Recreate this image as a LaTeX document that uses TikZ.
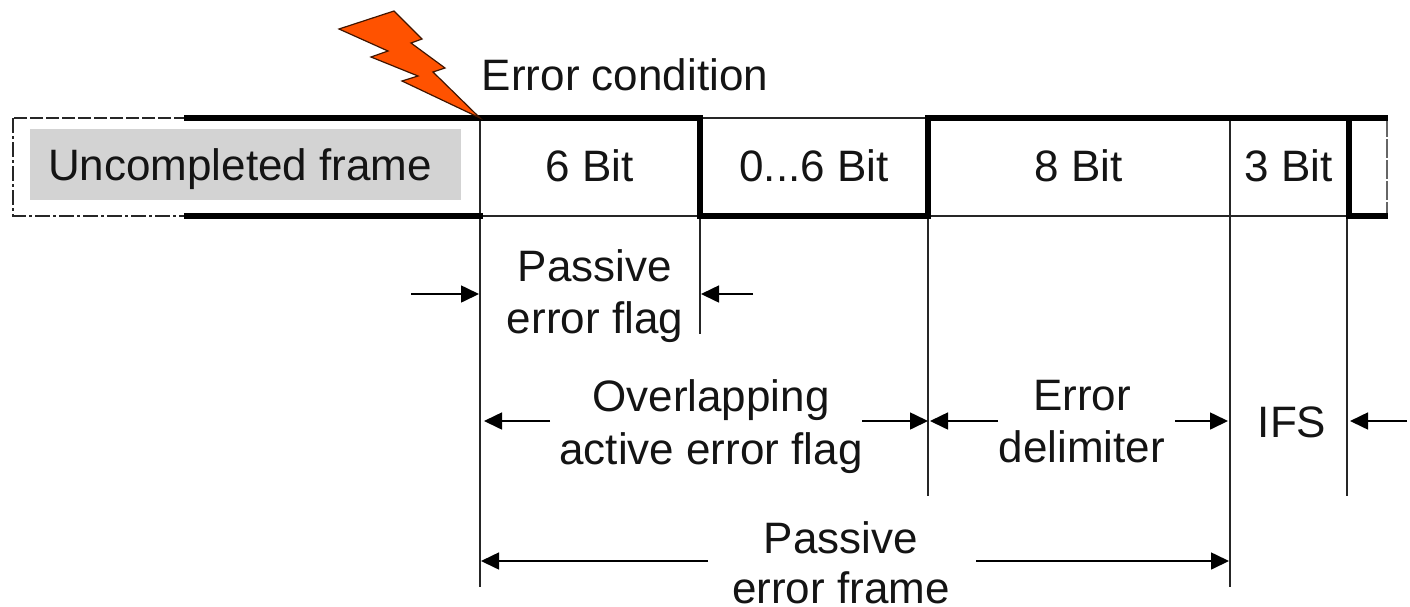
\documentclass[tikz,border=0pt]{standalone}
\usepackage{fontspec}
\setmainfont{Liberation Sans}
\usetikzlibrary{arrows.meta}
\tikzset{
  lbl/.style={anchor=base,inner sep=0pt,font=\fontsize{44}{52}\selectfont,text=black!92},
  thin line/.style={draw=black!85,line width=2pt},
  thick line/.style={draw=black,line width=5.5pt,line cap=rect},
  dash line/.style={draw=black!85,line width=1.6pt,dash pattern=on 13pt off 3pt},
  dashdot line/.style={draw=black!85,line width=1.6pt,dash pattern=on 15pt off 3pt on 3pt off 3pt},
  dim/.style={draw=black,line width=1.6pt,-{Triangle[length=18pt,width=17pt]}}
}
\definecolor{boltcol}{HTML}{FF5200}
\definecolor{boxgrey}{HTML}{D3D3D3}
\begin{document}
\begin{tikzpicture}[x=1pt,y=-1pt]
\useasboundingbox (0,0) rectangle (1410,606);
% frame anchors
\coordinate (tl) at (13,118); \coordinate (bl) at (13,216);
\coordinate (ts) at (187,118); \coordinate (bs) at (187,216);
\coordinate (t1) at (480,118); \coordinate (b1) at (480,216);
\coordinate (t2) at (700,118); \coordinate (b2) at (700,216);
\coordinate (t3) at (928,118); \coordinate (b3) at (928,216);
\coordinate (t4) at (1230,118); \coordinate (b4) at (1230,216);
\coordinate (t5) at (1349,118); \coordinate (b5) at (1349,216);
\coordinate (te) at (1385,118); \coordinate (be) at (1385,216);
\coordinate (ve) at (1387,118); \coordinate (we) at (1387,216);
\coordinate (d1) at (480,587); \coordinate (d2) at (700,334);
\coordinate (d3) at (928,496); \coordinate (d4) at (1230,587);
\coordinate (d5) at (1347,496); \coordinate (u5) at (1347,216);
% grey box
\node[fill=boxgrey,minimum width=431pt,minimum height=71pt,inner sep=0pt,anchor=north west] (ubox) at (30,129) {};
% dashed ends
\draw[dash line] (ts) -- (tl);
\draw[dashdot line] (tl) -- (bl) -- (bs);
\draw[draw=black!60,line width=1.4pt,dash pattern=on 19pt off 2pt] (ve) -- (we);
% thin frame
\draw[thin line] (t2) -- (t3);
\draw[thin line] (b1) -- (b5);
\draw[thin line] (t1) -- (d1);
\draw[thin line] (t2) -- (d2);
\draw[thin line] (t3) -- (d3);
\draw[thin line] (t4) -- (d4);
\draw[thin line] (u5) -- (d5);
% thick frame
\draw[thick line] (ts) -- (t2) -- (b2) -- (b3) -- (t3) -- (te);
\draw[thick line] (bs) -- (b1);
\draw[thick line] (t5) -- (b5) -- (be);
% bolt
\coordinate (tip) at (t1);
\fill[boltcol,draw=black!75!boltcol,line width=1.2pt,miter limit=10]
  (394,11) -- (422,39) -- (411,43) -- (445,68) -- (433,72) -- (tip)
  -- (402,81) -- (418,76) -- (371,57) -- (388,51) -- (339,29) -- cycle;
% labels
\node[lbl] (cond) at (625,90) {Error condition};
\node[lbl] (unc) at (240,180) {Uncompleted frame};
\node[lbl] (b6) at (590,181) {6 Bit};
\node[lbl] (b06) at (814,181) {0...6 Bit};
\node[lbl] (b8) at (1079,181) {8 Bit};
\node[lbl] (b33) at (1289,181) {3 Bit};
\node[lbl] (pef1) at (595,281) {Passive};
\node[lbl] (pef2) at (595,333) {error flag};
\node[lbl] (oa1) at (711,411) {Overlapping};
\node[lbl] (oa2) at (711,464) {active error flag};
\node[lbl] (ed1) at (1082,410) {Error};
\node[lbl] (ed2) at (1082,462) {delimiter};
\node[lbl] (ifs) at (1292,437) {IFS};
\node[lbl] (pf1) at (841,553) {Passive};
\node[lbl] (pf2) at (841,603) {error frame};
% dimension arrows
\coordinate (a1s) at (411,294); \coordinate (a1e) at (479,294);
\coordinate (a2s) at (753,294); \coordinate (a2e) at (701,294);
\coordinate (a3s) at (550,421); \coordinate (a3e) at (484,421);
\coordinate (a4s) at (862,421); \coordinate (a4e) at (928,421);
\coordinate (a5s) at (998,421); \coordinate (a5e) at (930,421);
\coordinate (a6s) at (1175,421); \coordinate (a6e) at (1228,421);
\coordinate (a7s) at (1407,421); \coordinate (a7e) at (1350,421);
\coordinate (a8s) at (708,561); \coordinate (a8e) at (481,561);
\coordinate (a9s) at (976,561); \coordinate (a9e) at (1229,561);
\foreach \n in {1,...,9}{\draw[dim] (a\n s) -- (a\n e);}
\end{tikzpicture}
\end{document}
